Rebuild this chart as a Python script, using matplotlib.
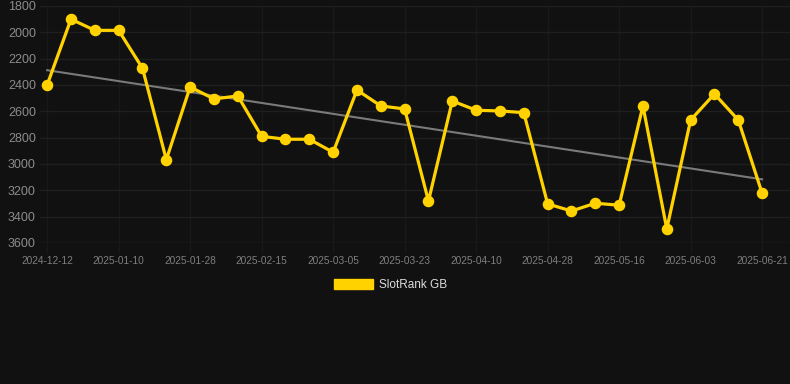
import numpy as np
import matplotlib
matplotlib.use('Agg')
from matplotlib import pyplot as plt
from matplotlib.patches import Patch

plt.rcParams['font.family'] = ['Liberation Sans', 'DejaVu Sans']

# rank values (lower = better, axis is inverted)
rank = [2400, 1900, 1985, 1985, 2273, 2967, 2415, 2506, 2483, 2790,
        2812, 2812, 2911, 2438, 2559, 2582, 3281, 2521, 2592, 2597,
        2610, 3303, 3357, 3298, 3313, 2559, 3493, 2666, 2468, 2666, 3222]
tick_labels = ['2024-12-12', '2025-01-10', '2025-01-28', '2025-02-15', '2025-03-05',
               '2025-03-23', '2025-04-10', '2025-04-28', '2025-05-16', '2025-06-03',
               '2025-06-21']
y_ticks = [1800, 2000, 2200, 2400, 2600, 2800, 3000, 3200, 3400, 3600]

bg = '#111111'
gold = '#FFD200'

x = np.arange(len(rank))

fig = plt.figure(figsize=(7.9, 3.84), dpi=100, facecolor=bg)
ax = fig.add_axes([40 / 790, 1 - 243 / 384, 750 / 790, 237 / 384])
ax.set_facecolor(bg)

# trend line (least squares)
k, b = np.polyfit(x, rank, 1)
ax.plot(x, k * x + b, color='#7a7a7a', linewidth=1.5, zorder=2)

ax.plot(x, rank, color=gold, linewidth=2.3, marker='o', markersize=7.3,
        zorder=3, clip_on=False)

ax.set_ylim(3600, 1800)
ax.set_xlim(-0.3, len(rank) - 1 + 1.17)
ax.set_yticks(y_ticks)
ax.set_xticks(x[::3])
ax.set_xticklabels(tick_labels)

ax.grid(True, axis='y', color='#1f1f1f', linewidth=1)
ax.grid(True, axis='x', color='#191919', linewidth=1)
for s in ax.spines.values():
    s.set_visible(False)
ax.axhline(3600, color='#2a2a2a', linewidth=1, zorder=1)

ax.tick_params(axis='y', length=0, pad=3, labelsize=9, labelcolor='#8c8c8c')
ax.tick_params(axis='x', length=7, width=1, color='#191919', pad=2,
               labelsize=7.3, labelcolor='#7e7e7e')

handle = Patch(facecolor=gold, edgecolor=gold)
fig.legend([handle], ['SlotRank GB'], loc='center',
           bbox_to_anchor=(0.494, 1 - 285 / 384), frameon=False,
           fontsize=8.5, labelcolor='#dddddd', handlelength=3.3,
           handleheight=0.9, handletextpad=0.5)

plt.savefig('out.png', dpi=100, facecolor=bg)
